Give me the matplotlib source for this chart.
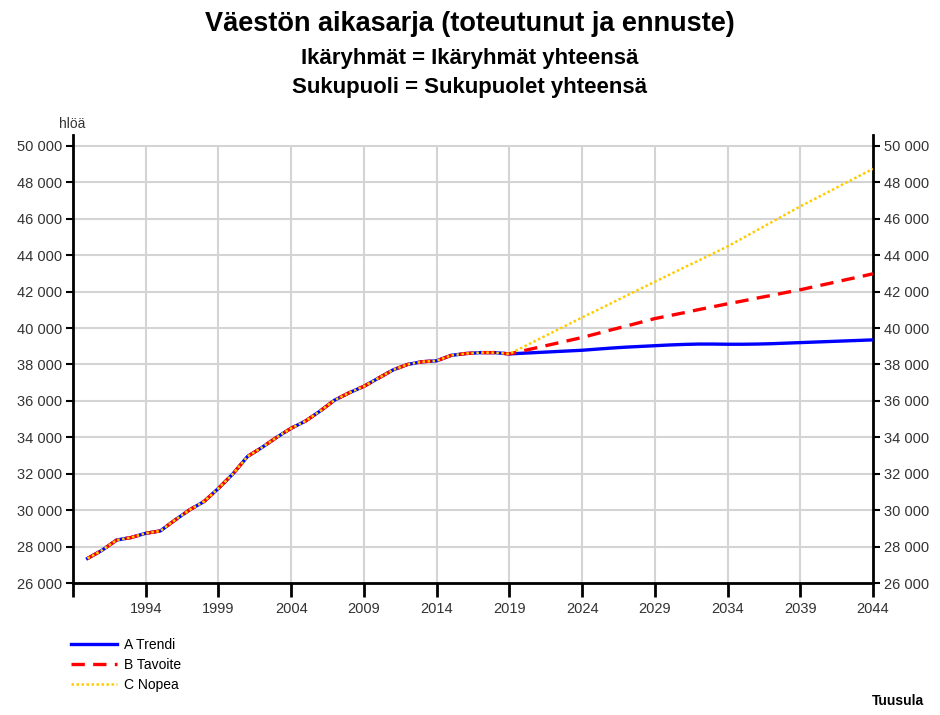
import matplotlib
matplotlib.use("Agg")
import matplotlib.pyplot as plt
from matplotlib.ticker import FuncFormatter

plt.rcParams['font.family'] = ['Liberation Sans', 'DejaVu Sans']

# toteutunut 1990-2019
hist_years = list(range(1990, 2020))
hist_vals = [27350, 27800, 28360, 28500, 28730, 28860, 29450, 30010, 30470, 31200,
             32000, 32950, 33450, 34000, 34500, 34900, 35450, 36050, 36450, 36800,
             37250, 37700, 38000, 38150, 38200, 38500, 38600, 38650, 38650, 38580]

# ennusteet 2020-2044
proj_years = list(range(2020, 2045))
trendi = [38620, 38660, 38700, 38740, 38780, 38840, 38900, 38950, 38990, 39030,
          39070, 39100, 39120, 39120, 39110, 39110, 39120, 39140, 39170, 39200,
          39230, 39260, 39290, 39320, 39350]
tavoite = [38760, 38940, 39120, 39300, 39480, 39690, 39900, 40100, 40310, 40520,
           40680, 40840, 41010, 41170, 41330, 41480, 41640, 41790, 41950, 42100,
           42280, 42450, 42630, 42800, 42980]
nopea = [38980, 39380, 39780, 40180, 40580, 40970, 41360, 41760, 42150, 42540,
         42930, 43320, 43700, 44090, 44480, 44920, 45360, 45800, 46240, 46680,
         47090, 47500, 47920, 48330, 48740]

series_names = ['A Trendi', 'B Tavoite', 'C Nopea']
x_ticks = [1989, 1994, 1999, 2004, 2009, 2014, 2019, 2024, 2029, 2034, 2039, 2044]
x_labels = ['', '1994', '1999', '2004', '2009', '2014', '2019', '2024', '2029', '2034', '2039', '2044']
y_ticks = list(range(26000, 50001, 2000))

fig = plt.figure(figsize=(9.4, 7.15), dpi=100)
ax = fig.add_axes([0.0777, 0.1846, 0.851, 0.6266])

yrs = hist_years + proj_years
ax.plot(yrs, hist_vals + trendi, color='#0000ff', lw=2.4, label=series_names[0], zorder=3)
ax.plot(yrs, hist_vals + tavoite, color='#ff0000', lw=2.4, ls=(0, (4, 2.5)), label=series_names[1], zorder=4)
ax.plot(yrs, hist_vals + nopea, color='#ffcc00', lw=1.8, ls=(0, (1, 1)), label=series_names[2], zorder=5)

ax.set_xlim(1989, 2044)
ax.set_ylim(26000, 50600)
ax.set_xticks(x_ticks)
ax.set_xticklabels(x_labels)
ax.set_yticks(y_ticks)
fmt = FuncFormatter(lambda v, p: f"{int(v):,}".replace(',', ' '))
ax.yaxis.set_major_formatter(fmt)
ax.grid(True, axis='y', color='#d4d4d4', lw=1.5, zorder=0)
ax.vlines(x_ticks[1:-1], y_ticks[0], y_ticks[-1], color='#d4d4d4', lw=1.5, zorder=0)
ax.set_axisbelow(True)

ax.spines['top'].set_visible(False)
for s in ['left', 'right', 'bottom']:
    ax.spines[s].set_linewidth(2)
    ax.spines[s].set_color('black')

ax.tick_params(axis='y', which='both', left=True, right=True, labelleft=True, labelright=True,
               length=5, width=1.5, direction='out', labelsize=10.5, labelcolor='#333333', pad=3)
ax.tick_params(axis='x', length=10, width=2, direction='out', labelsize=10.5,
               labelcolor='#333333', pad=4)

fig.text(0.5, 0.966, 'Väestön aikasarja (toteutunut ja ennuste)', ha='center', va='center',
         fontsize=19.5, fontweight='bold')
fig.text(0.5, 0.918, 'Ikäryhmät = Ikäryhmät yhteensä', ha='center', va='center',
         fontsize=16, fontweight='bold')
fig.text(0.5, 0.877, 'Sukupuoli = Sukupuolet yhteensä', ha='center', va='center',
         fontsize=16, fontweight='bold')
fig.text(0.063, 0.826, 'hlöä', ha='left', va='center', fontsize=10, color='#333333')
fig.text(0.983, 0.01, 'Tuusula', ha='right', va='bottom', fontsize=10, fontweight='bold')

ax.legend(loc='upper left', bbox_to_anchor=(0.068, 0.118), bbox_transform=fig.transFigure,
          frameon=False, fontsize=10, handlelength=3.3, labelspacing=0.45,
          handletextpad=0.5, borderpad=0)

fig.savefig('out.png', dpi=100)
